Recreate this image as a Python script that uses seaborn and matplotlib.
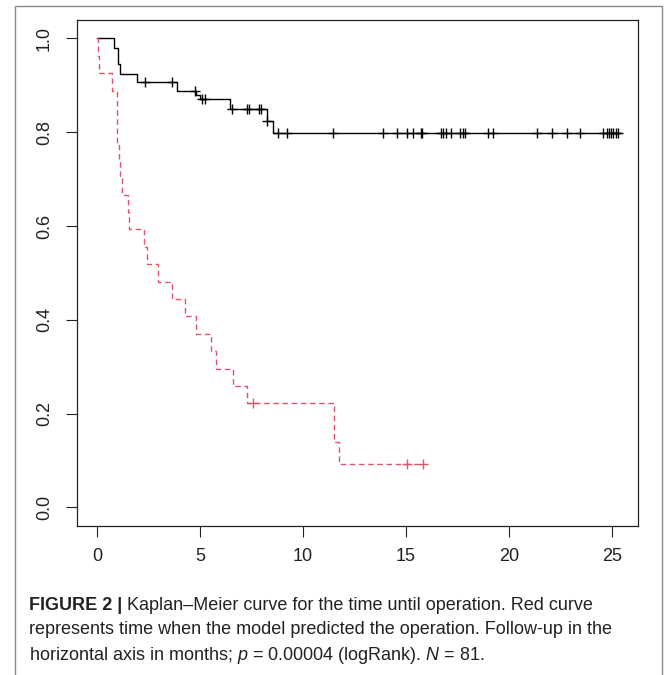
import numpy as np
import pandas as pd
import matplotlib
matplotlib.use("Agg")
import matplotlib.pyplot as plt
import seaborn as sns
from matplotlib import font_manager as fm
from matplotlib.patches import Rectangle

# ---------------- data ----------------
black_event_times = [0.84, 0.99, 1.12, 1.93, 3.90, 4.80, 5.00, 6.46, 8.27, 8.55]
black_surv = [0.979, 0.945, 0.925, 0.907, 0.888, 0.879, 0.870, 0.849, 0.825, 0.799]
black_censor_times = [2.33, 3.62, 4.75, 5.08, 5.25, 6.54, 7.29, 7.38, 7.85, 7.95,
                      8.27, 8.80, 9.24, 11.47, 13.90, 14.55, 15.03, 15.32, 15.73,
                      15.79, 16.70, 16.80, 16.94, 17.18, 17.62, 17.78, 17.86,
                      18.96, 19.21, 21.34, 22.10, 22.80, 23.45, 24.58, 24.74,
                      24.87, 24.94, 25.07, 25.18, 25.31]
black_end = 25.40

red_event_times = [0.02, 0.10, 0.71, 0.98, 1.05, 1.12, 1.20, 1.49, 1.55, 2.25,
                   2.40, 2.93, 3.62, 4.27, 4.80, 5.53, 5.76, 6.59, 7.27, 11.50,
                   11.76]
red_surv = [0.963, 0.926, 0.889, 0.778, 0.741, 0.704, 0.667, 0.630, 0.593, 0.556,
            0.519, 0.481, 0.444, 0.407, 0.370, 0.333, 0.296, 0.259, 0.222, 0.139,
            0.093]
red_censor_times = [7.56, 15.06, 15.81]
red_end = 15.81

x_ticks = [0, 5, 10, 15, 20, 25]
y_ticks = [0.0, 0.2, 0.4, 0.6, 0.8, 1.0]
y_tick_labels = ["0.0", "0.2", "0.4", "0.6", "0.8", "1.0"]

caption_bold = "FIGURE 2 | "
caption_lines = [
    "Kaplan\u2013Meier curve for the time until operation. Red curve",
    "represents time when the model predicted the operation. Follow-up in the",
    "horizontal axis in months; $p$ = 0.00004 (logRank). $N$ = 81.",
]

BLACK = "#000000"
RED = "#DF536B"

# ---------------- fonts ----------------
names = {f.name for f in fm.fontManager.ttflist}
FONT = "Liberation Sans Narrow" if "Liberation Sans Narrow" in names else "Liberation Sans"
plt.rcParams["font.family"] = [FONT, "DejaVu Sans"]
plt.rcParams["mathtext.fontset"] = "custom"
plt.rcParams["mathtext.rm"] = FONT
plt.rcParams["mathtext.it"] = FONT + ":italic"


def step_frame(event_times, surv, end):
    t = [0.0] + list(event_times) + [end]
    s = [1.0] + list(surv) + [surv[-1]]
    return pd.DataFrame({"time": t, "surv": s})


def censor_frame(event_times, surv, ctimes):
    et = np.array([0.0] + list(event_times))
    sv = np.array([1.0] + list(surv))
    idx = np.searchsorted(et, np.array(ctimes), side="right") - 1
    return pd.DataFrame({"time": ctimes, "surv": sv[idx]})


black_df = step_frame(black_event_times, black_surv, black_end)
red_df = step_frame(red_event_times, red_surv, red_end)
black_c = censor_frame(black_event_times, black_surv, black_censor_times)
red_c = censor_frame(red_event_times, red_surv, red_censor_times)

fig = plt.figure(figsize=(6.69, 6.75), dpi=100)
ax = fig.add_axes([0.1145, 0.2207, 0.8386, 0.7501])

sns.lineplot(data=black_df, x="time", y="surv", drawstyle="steps-post",
             estimator=None, sort=False, color=BLACK, linewidth=1.0, ax=ax)
sns.lineplot(data=red_df, x="time", y="surv", drawstyle="steps-post",
             estimator=None, sort=False, color=RED, linewidth=1.0, ax=ax)
ax.lines[-1].set_dashes([4, 2.6])

sns.scatterplot(data=black_c, x="time", y="surv", marker="+", s=60,
                color=BLACK, linewidth=1.0, ax=ax, zorder=3)
sns.scatterplot(data=red_c, x="time", y="surv", marker="+", s=60,
                color=RED, linewidth=1.0, ax=ax, zorder=3)

ax.set_xlim(-1.0, 26.25)
ax.set_ylim(-0.04, 1.04)
ax.set_xticks(x_ticks)
ax.set_xticklabels([str(v) for v in x_ticks])
ax.set_yticks(y_ticks)
ax.set_yticklabels(y_tick_labels, rotation=90, va="center")
ax.set_xlabel("")
ax.set_ylabel("")
ax.tick_params(axis="both", direction="out", length=8, width=0.8,
               labelsize=13, colors="#222222")
ax.tick_params(axis="x", pad=8)
ax.tick_params(axis="y", pad=9)
for sp in ax.spines.values():
    sp.set_visible(True)
    sp.set_color("#222222")
    sp.set_linewidth(0.9)
ax.set_facecolor("white")
ax.grid(False)

# figure frame
fig.patches.append(Rectangle((15 / 669, -0.02), (662 - 15) / 669, 0.02 + (675 - 6) / 675,
                             transform=fig.transFigure, fill=False,
                             edgecolor="#8a8a8a", linewidth=1.0))

# caption
fig.canvas.draw()
renderer = fig.canvas.get_renderer()
x0 = 29 / 669
ys = [1 - 605 / 675, 1 - 630 / 675, 1 - 655 / 675]
tb = fig.text(x0, ys[0], caption_bold, fontsize=13, fontweight="bold",
              va="center", ha="left", color="#222222")
bb = tb.get_window_extent(renderer=renderer)
x1 = bb.x1 / fig.bbox.width
fig.text(x1, ys[0], caption_lines[0], fontsize=13, va="center", ha="left",
         color="#222222")
fig.text(x0, ys[1], caption_lines[1], fontsize=13, va="center", ha="left",
         color="#222222")
fig.text(x0, ys[2], caption_lines[2], fontsize=13, va="center", ha="left",
         color="#222222")

fig.savefig("out.png", dpi=100, facecolor="white")
